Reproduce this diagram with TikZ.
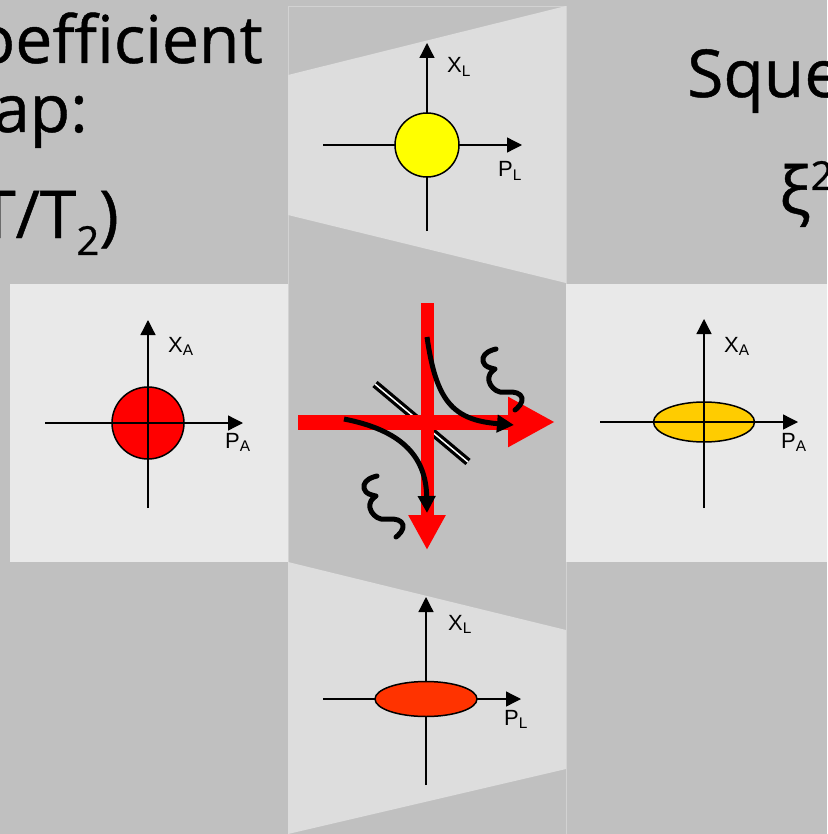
\documentclass[tikz,border=0pt]{standalone}
\usepackage{fontspec}
\setmainfont[FakeBold=0.7]{Open Sans}
\newfontfamily\axisfont{Liberation Sans}
\usetikzlibrary{arrows.meta,shapes.geometric}
\definecolor{slide}{HTML}{C0C0C0}
\definecolor{panel}{HTML}{E9E9E9}
\definecolor{wedge}{HTML}{DDDDDD}
\definecolor{rim}{HTML}{D2D2D2}
\definecolor{beam}{HTML}{FF0000}
\definecolor{amber}{HTML}{FFCC00}
\definecolor{vermil}{HTML}{FF3300}
\definecolor{lemon}{HTML}{FFFF00}

\begin{document}
\begin{tikzpicture}[x=1pt, y=-1pt,
  title/.style={font=\fontsize{66}{66}\selectfont, inner sep=0pt},
  axlbl/.style={font=\axisfont\fontsize{22}{22}\selectfont, inner sep=0pt, anchor=base west},
  axis/.style={line width=1.3pt, -{Triangle[length=15pt,width=15pt]}},
  spot/.style={draw=black, line width=1.5pt, inner sep=0pt},
  disk/.style={spot, circle},
  oval/.style={spot, ellipse},
  laser/.style={draw=beam, line width=#1},
  swirl/.style={line width=5pt, -{Triangle[length=17pt,width=17pt]}},
  squig/.pic={
    \draw[line width=5pt, line cap=round, line join=round]
      plot[smooth, tension=0.7] coordinates {(0,0) (-8,3) (-13,9) (-11,16) (-5,19) (-1,20)}
      plot[smooth, tension=0.7] coordinates {(-1,20) (-6,25) (-7,32) (-3,39) (4,43) (12,43) (21,44) (26,49) (24,56) (19,61)};
  }
]
\useasboundingbox (0,0) rectangle (827,834);
\fill[slide] (0,0) rectangle (827,834);

% panels
\draw[rim, fill=slide] (288,6) rectangle (566,840);
\fill[wedge] (288,75) -- (566,6) -- (566,283) -- (288,215) -- cycle;
\fill[wedge] (288,562) -- (566,630) -- (566,769) -- (288,834) -- cycle;
\fill[panel] (10,284) rectangle (288,562);
\fill[panel] (566,284) rectangle (827,562);

% slide text
\node[title, anchor=base east] (coef) at (263,63) {oefficient};
\node[title, anchor=base east] (trap) at (88,132) {rap:};
\node[title, anchor=base east] (ratio) at (119,238) {T/T\raisebox{-17pt}{\fontsize{40}{40}\selectfont 2})};
\node[title, anchor=base west] (sque) at (687,97) {Sque};
\node[title, anchor=base west] (xisq) at (779,214) {ξ\raisebox{24pt}{\fontsize{40}{40}\selectfont 2}};

% top plot
\coordinate (tc) at (427,145);
\coordinate (tW) at (323,145);
\coordinate (tE) at (522,145);
\coordinate (tS) at (427,231);
\coordinate (tN) at (427,43);
\draw[axis] (tW) -- (tE);
\draw[axis] (tS) -- (tN);
\node[disk, fill=lemon, minimum size=64pt] (tdisk) at (tc) {};
\node[axlbl] (tx) at (447,73) {X\textsubscript{L}};
\node[axlbl] (tp) at (498,177) {P\textsubscript{L}};

% bottom plot
\coordinate (bc) at (426,699);
\coordinate (bW) at (323,699);
\coordinate (bE) at (521,699);
\coordinate (bS) at (426,785);
\coordinate (bN) at (426,597);
\draw[axis] (bW) -- (bE);
\draw[axis] (bS) -- (bN);
\node[oval, fill=vermil, minimum width=102pt, minimum height=35pt] (boval) at (bc) {};
\node[axlbl] (bx) at (448,630) {X\textsubscript{L}};
\node[axlbl] (bp) at (504,725) {P\textsubscript{L}};

% left plot
\coordinate (lc) at (148,423);
\coordinate (lW) at (45,423);
\coordinate (lE) at (243,423);
\coordinate (lS) at (148,508);
\coordinate (lN) at (148,320);
\node[disk, fill=beam, minimum size=72pt] (ldisk) at (lc) {};
\draw[axis] (lW) -- (lE);
\draw[axis] (lS) -- (lN);
\node[axlbl] (lx) at (168,352) {X\textsubscript{A}};
\node[axlbl] (lp) at (225,448) {P\textsubscript{A}};

% right plot
\coordinate (rc) at (704,422);
\coordinate (rW) at (600,422);
\coordinate (rE) at (798,422);
\coordinate (rS) at (704,508);
\coordinate (rN) at (704,319);
\node[oval, fill=amber, minimum width=101pt, minimum height=40pt] (roval) at (rc) {};
\draw[axis] (rW) -- (rE);
\draw[axis] (rS) -- (rN);
\node[axlbl] (rx) at (724,352) {X\textsubscript{A}};
\node[axlbl] (rp) at (781,448) {P\textsubscript{A}};

% beam splitter and beams
\coordinate (bs1) at (375,384);
\coordinate (bs2) at (468,462);
\draw[line width=8pt] (bs1) -- (bs2);
\draw[white, line width=1.5pt] (bs1) -- (bs2);
\coordinate (hin) at (298,422);
\coordinate (hout) at (555,422);
\coordinate (vin) at (427,303);
\coordinate (vout) at (427,550);
\draw[laser=15pt, -{Triangle[length=47pt,width=47pt]}, beam] (hin) -- (hout);
\draw[laser=13pt, -{Triangle[length=35pt,width=35pt]}, beam] (vin) -- (vout);

% squeezing arrows
\coordinate (s1a) at (427,337);
\coordinate (s1b) at (514,425);
\coordinate (s2a) at (344,419);
\coordinate (s2b) at (427,513);
\draw[swirl] (s1a) .. controls (436,400) and (452,420) .. (s1b);
\draw[swirl] (s2a) .. controls (400,430) and (426,455) .. (s2b);
\pic at (496,349) {squig};
\pic at (377,476) {squig};

\end{tikzpicture}
\end{document}
